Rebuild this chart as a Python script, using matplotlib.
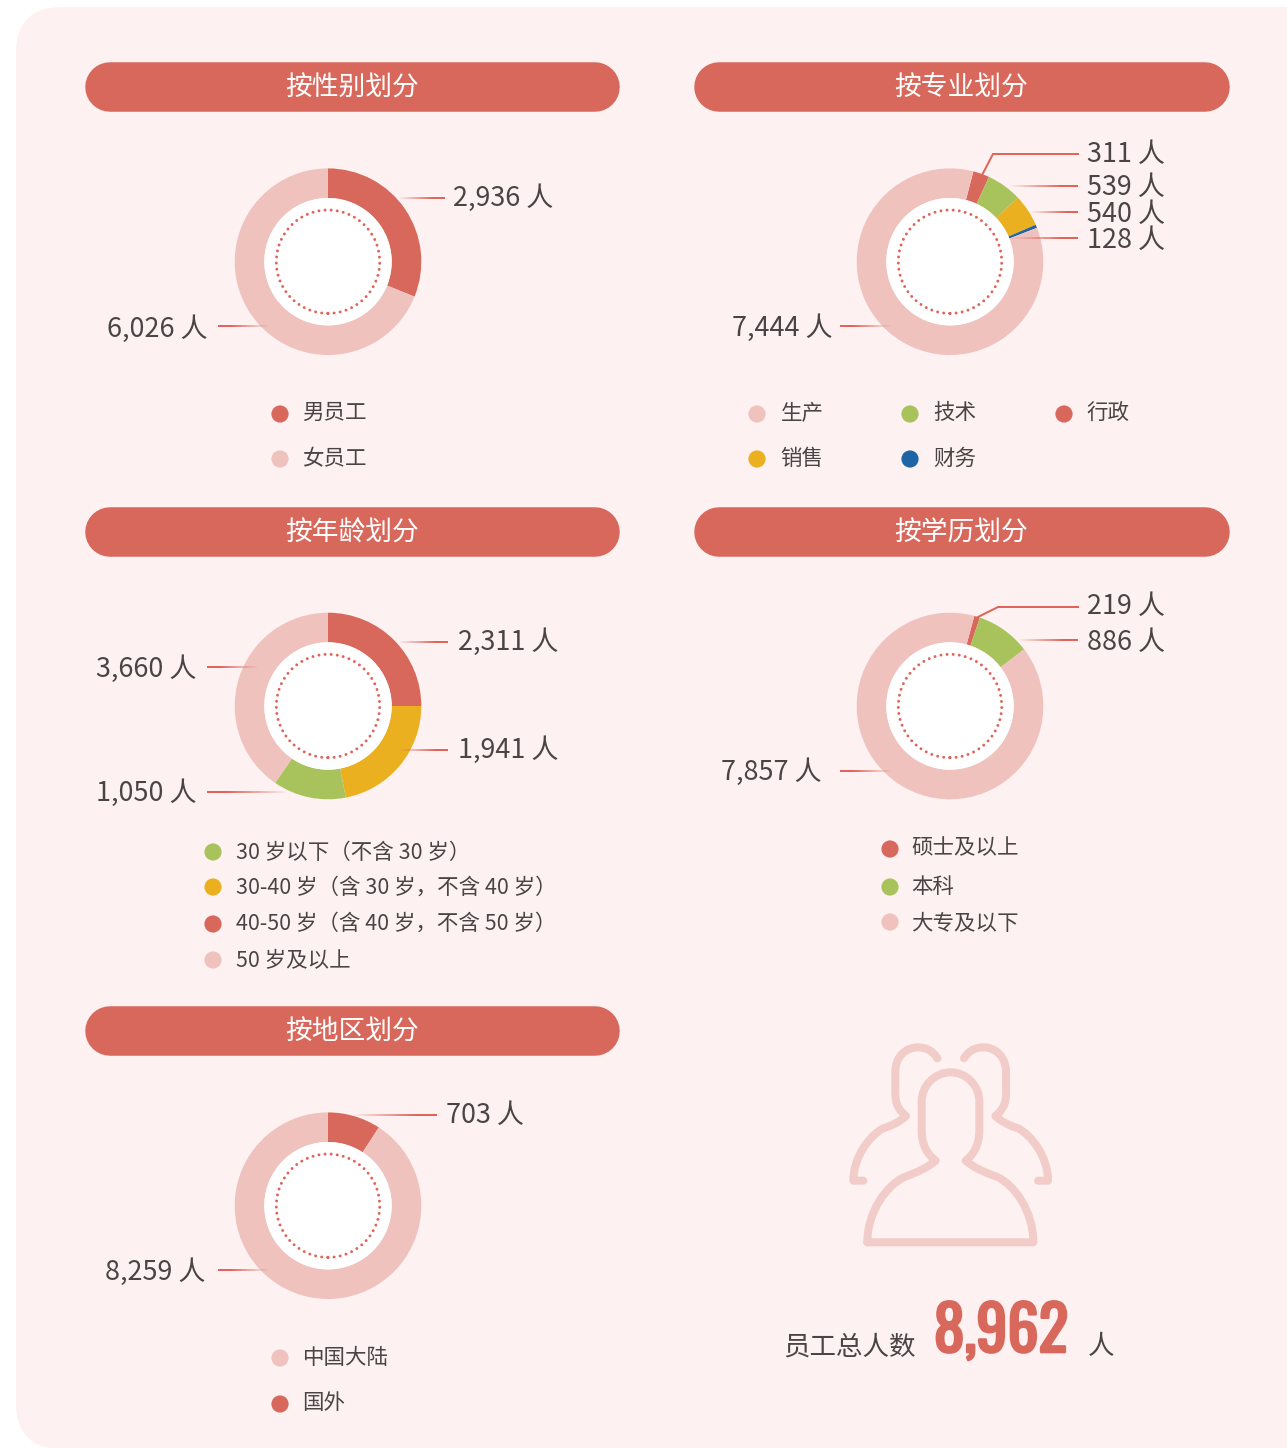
import numpy as np
import matplotlib
matplotlib.use("Agg")
import matplotlib.pyplot as plt
import matplotlib.patheffects as pe
from matplotlib.patches import FancyBboxPatch, Circle, PathPatch
from matplotlib.path import Path
from matplotlib.collections import LineCollection
from matplotlib.colors import to_rgb

plt.rcParams['font.family'] = ['Noto Sans CJK SC', 'DejaVu Sans']
plt.rcParams['lines.scale_dashes'] = False

W, H = 1287, 1448

RED = "#d9685c"
PINK = "#f0c2be"
GREEN = "#a9c35c"
ORANGE = "#eab020"
BLUE = "#1f65a5"
TEXT = "#4a4544"
PANEL = "#fdf2f1"
LINE = "#e0645a"
ICON = "#f2ccc8"

# 圆环的弧度按图上量取（度），标签数字单独保存
gender_arc = [112, 248]
gender_colors = [RED, PINK]
gender_labels = ["2,936 人", "6,026 人"]
gender_legend = ["男员工", "女员工"]

major_arc = [10.2, 22, 20, 2, 305.8]
major_colors = [RED, GREEN, ORANGE, BLUE, PINK]
major_labels = ["311 人", "539 人", "540 人", "128 人", "7,444 人"]
major_legend = ["生产", "技术", "行政", "销售", "财务"]
major_legend_colors = [PINK, GREEN, RED, ORANGE, BLUE]

age_arc = [90, 79, 45.5, 145.5]
age_colors = [RED, ORANGE, GREEN, PINK]
age_labels = ["2,311 人", "1,941 人", "1,050 人", "3,660 人"]
age_legend = ["30 岁以下（不含 30 岁）", "30-40 岁（含 30 岁，不含 40 岁）",
              "40-50 岁（含 40 岁，不含 50 岁）", "50 岁及以上"]
age_legend_colors = [GREEN, ORANGE, RED, PINK]

edu_arc = [3.6, 33.9, 322.5]
edu_colors = [RED, GREEN, PINK]
edu_labels = ["219 人", "886 人", "7,857 人"]
edu_legend = ["硕士及以上", "本科", "大专及以下"]
edu_legend_colors = [RED, GREEN, PINK]

region_arc = [33, 327]
region_colors = [RED, PINK]
region_labels = ["703 人", "8,259 人"]
region_legend = ["中国大陆", "国外"]
region_legend_colors = [PINK, RED]

headers = ["按性别划分", "按专业划分", "按年龄划分", "按学历划分", "按地区划分"]
total_label = "8,962"


def px(v):
    return v * 0.72


fig = plt.figure(figsize=(W / 100, H / 100), dpi=100, facecolor="white")

bg = fig.add_axes([0, 0, 1, 1], zorder=0)
bg.set_xlim(0, W)
bg.set_ylim(H, 0)
bg.axis("off")

top = fig.add_axes([0, 0, 1, 1], zorder=2)
top.set_xlim(0, W)
top.set_ylim(H, 0)
top.axis("off")
top.patch.set_alpha(0)

bg.add_patch(FancyBboxPatch((16, 7), W + 40, H + 1 - 7, boxstyle="round,pad=0,rounding_size=46",
                            fc=PANEL, ec="none"))


def donut(cx, cy, arcs, colors, start=0):
    R = 93.3
    ax = fig.add_axes([(cx - R) / W, 1 - (cy + R) / H, 2 * R / W, 2 * R / H], zorder=1)
    ax.pie(arcs, colors=colors, startangle=90 - start, counterclock=False, radius=1,
           wedgeprops=dict(width=1 - 63.7 / R, linewidth=0))
    ax.set_xlim(-1, 1)
    ax.set_ylim(-1, 1)
    ax.axis("off")
    ax.patch.set_alpha(0)
    for p in ax.patches:
        p.set_clip_on(False)
    ax.add_patch(Circle((0, 0), 63.7 / R, fc="white", ec="none", zorder=5))
    ax.add_patch(Circle((0, 0), 51.7 / R, fc="none", ec=LINE, lw=px(3), zorder=6,
                        linestyle=(0, (0.01, 4.4)), capstyle="round"))


def fade(x0, x1, y):
    # 引线：x0 端实色，x1 端渐隐
    xs = np.linspace(x0, x1, 31)
    segs = [[(xs[i], y), (xs[i + 1], y)] for i in range(30)]
    rgb = to_rgb(LINE)
    alphas = np.clip(np.linspace(1.3, 0, 30), 0, 1)
    top.add_collection(LineCollection(segs, colors=[(*rgb, a) for a in alphas], linewidths=px(2),
                                      capstyle="butt"))


def label(x, y, s, **kw):
    top.text(x, y + 2, s, fontsize=px(27), color=TEXT, ha="left", va="center", **kw)


def legend(items, colors, mx, my, tx, ty):
    for s, c, a, b, d, e in zip(items, colors, mx, my, tx, ty):
        top.add_patch(Circle((a, b), 8.6, fc=c, ec="none"))
        top.text(d - 0.5, e + 2, s, fontsize=px(21.5), color=TEXT, ha="left", va="center")


# 标题条
header_x = [85, 694.5, 85, 694.5, 85]
header_y = [62.5, 62.5, 507, 507, 1006.5]
for s, x, y in zip(headers, header_x, header_y):
    top.plot([x + 24.7, x + 535 - 24.7], [y + 24.7, y + 24.7], color=RED, lw=px(49.5),
             solid_capstyle="round")
    top.text(x + 267, y + 26, s, fontsize=px(26.8), color="white", ha="center", va="center")

# 性别
donut(328, 261.7, gender_arc, gender_colors)
fade(445, 397, 197.5)
fade(218, 270, 326)
label(453, 196, gender_labels[0])
label(107, 327, gender_labels[1])
legend(gender_legend, gender_colors, [280, 280], [414, 459], [303, 303], [411, 457])

# 专业
donut(950, 261.7, major_arc, major_colors, start=14.5)
top.plot([1078, 993, 981], [154, 154, 177], color=LINE, lw=px(2), solid_joinstyle="miter")
fade(1078, 1008, 186)
fade(1078, 1030, 212)
fade(1078, 1010, 238)
fade(840, 893, 326)
for s, y in zip(major_labels[:4], [152, 185, 212, 238]):
    label(1087, y, s)
label(732, 326, major_labels[4])
legend(major_legend, major_legend_colors, [757, 910, 1064, 757, 910], [414, 414, 414, 459, 459],
       [781, 934, 1087, 781, 934], [411, 411, 411, 457, 457])

# 年龄
donut(328, 706, age_arc, age_colors)
fade(448, 397, 642)
fade(448, 397, 750)
fade(207, 260, 667)
fade(207, 290, 792)
label(458, 640, age_labels[0])
label(458, 748, age_labels[1])
label(96, 791, age_labels[2])
label(96, 667, age_labels[3])
legend(age_legend, age_legend_colors, [213] * 4, [852, 887, 924, 960], [236] * 4, [851, 886, 922, 959])

# 学历
donut(950, 706, edu_arc, edu_colors, start=15.1)
top.plot([1078, 998, 978], [607, 607, 617], color=LINE, lw=px(2), solid_joinstyle="miter")
fade(1078, 1017, 640)
fade(840, 893, 771)
label(1087, 604, edu_labels[0])
label(1087, 640, edu_labels[1])
label(721, 770, edu_labels[2])
legend(edu_legend, edu_legend_colors, [890] * 3, [849, 887, 922], [912] * 3, [846, 885, 922])

# 地区
donut(328, 1205.7, region_arc, region_colors)
fade(437, 350, 1115)
fade(218, 270, 1270)
label(446, 1113, region_labels[0])
label(105, 1270, region_labels[1])
legend(region_legend, region_legend_colors, [280, 280], [1358, 1404], [303, 303], [1356, 1401])


# 人像图标（放大图上的坐标，3 倍，偏移 820,1030）
def icon(verts, codes):
    pts = [(820 + x / 3, 1030 + y / 3) for x, y in verts]
    top.add_patch(PathPatch(Path(pts, codes), fc="none", ec=ICON, lw=px(8),
                            capstyle="round", joinstyle="round"))


M, L, C = Path.MOVETO, Path.LINETO, Path.CURVE4
front = [(142, 637), (640, 637),
         (640, 545), (585, 465), (530, 440),
         (495, 428), (460, 412), (437, 392),
         (465, 370), (478, 340), (478, 300),
         (478, 215),
         (478, 167), (440, 127), (392, 127),
         (344, 127), (305, 167), (305, 215),
         (305, 300),
         (305, 340), (318, 370), (347, 392),
         (324, 412), (290, 428), (255, 440),
         (200, 465), (142, 545), (142, 637)]
front_codes = [M, L] + [C] * 9 + [L] + [C] * 6 + [L] + [C] * 9
icon(front, front_codes)

back = [(130, 452), (100, 452),
        (100, 380), (150, 315), (190, 295),
        (215, 287), (240, 275), (258, 258),
        (236, 240), (226, 222), (226, 190),
        (226, 125),
        (226, 80), (258, 52), (293, 52),
        (318, 52), (338, 62), (352, 85)]
back_codes = [M, L] + [C] * 9 + [L] + [C] * 6
icon(back, back_codes)
icon([(784 - x, y) for x, y in back], back_codes)

# 总人数
top.text(783, 1347, "员工总人数", fontsize=px(26.5), color=TEXT, ha="left", va="center")
top.text(1087.5, 1346, "人", fontsize=px(26.5), color=TEXT, ha="left", va="center")
big = top.text(1001, 1352, total_label, fontsize=px(62), color=RED, ha="center", va="baseline",
               family=["Oswald", "Liberation Sans Narrow", "DejaVu Sans"], fontweight="bold")
big.set_path_effects([pe.withStroke(linewidth=px(2.6), foreground=RED)])

fig.savefig("out.png", dpi=100, facecolor="white")
